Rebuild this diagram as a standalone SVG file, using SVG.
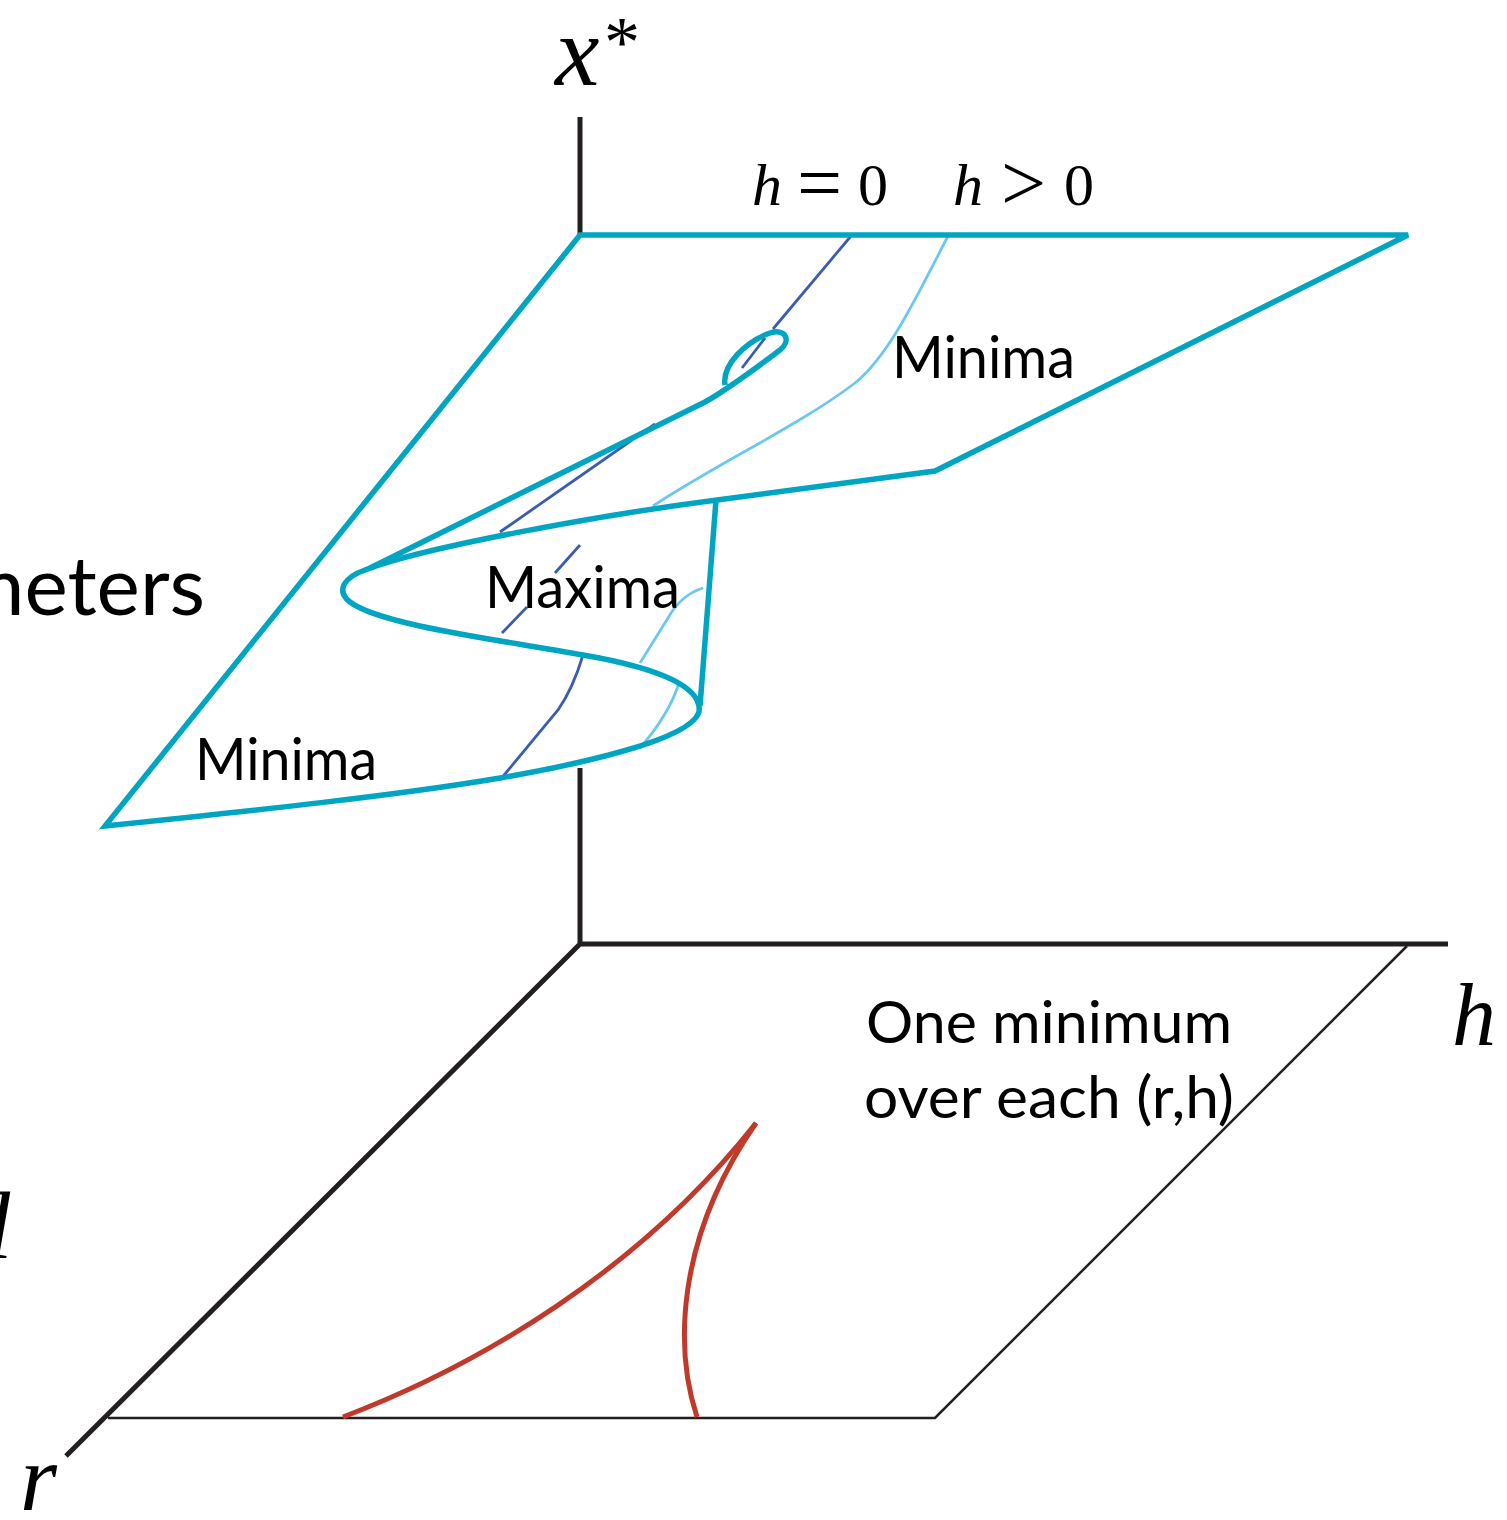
<svg xmlns="http://www.w3.org/2000/svg" width="1507" height="1520" viewBox="0 0 1507 1520">
<style>
.axis{stroke:#231f20;stroke-width:5;fill:none;stroke-linecap:butt}
.thin{stroke:#231f20;stroke-width:2.5;fill:none}
.teal{stroke:#00a5c2;stroke-width:5.5;fill:none;stroke-linejoin:miter;stroke-linecap:butt}
.dark{stroke:#3a5db0;stroke-width:2.8;fill:none}
.light{stroke:#6cc8ee;stroke-width:2.8;fill:none}
.red{stroke:#c0392b;stroke-width:5;fill:none}
.lbl{font-family:Lato,"Open Sans","Liberation Sans",sans-serif;font-size:58px;fill:#000}
.math{font-family:"Liberation Serif","DejaVu Serif",serif;fill:#000}
.it{font-style:italic}
</style>
<rect width="1507" height="1520" fill="#fff"/>
<g id="axes">
<path class="axis" d="M580,117 L580,235 M580,768 L580,944 L1448,944 M580,944 L66,1456"/>
</g>
<g id="base-plane">
<path class="thin" d="M108,1418 L935,1418 L1407,946"/>
</g>
<g id="fold-curve">
<path class="red" d="M343,1417 C480,1365 640,1270 756,1123"/>
<path class="red" d="M697,1417 C675,1350 675,1240 756,1123"/>
</g>
<g id="h-lines">
<path class="dark" d="M851,236 L773,329 M765,338 L742,368 M655,424 L500,532 M580,545 L555,573 M527,607 L502,633 M583,655 C575,682 567,697 558,710 L500,780"/>
<path class="light" d="M948,236 C920,290 890,355 855,383 C800,425 720,462 653,506 M703,588 C690,592 678,600 668,618 L640,663 M679,683 C672,705 660,725 640,748"/>
</g>
<g id="surface">
<path class="teal" d="M1408,235 L580,235 L105,826 C260,810 400,795 500,778 C580,764 690,740 699,712 C702,690 670,670 583,655 C500,640 380,625 350,602 C335,590 345,577 365,570 C420,548 600,515 717,500 L935,471 Z"/>
<path class="teal" d="M716,500 L700,706"/>
<path class="teal" d="M370,568 L705,402 C730,388 760,365 780,350 C792,340 785,328 770,333 C745,342 722,365 725,385"/>
</g>
<g id="labels">
<text class="lbl" x="892" y="378" textLength="183" lengthAdjust="spacingAndGlyphs">Minima</text>
<text class="lbl" x="485" y="608" textLength="195" lengthAdjust="spacingAndGlyphs">Maxima</text>
<text class="lbl" x="195" y="780" textLength="182" lengthAdjust="spacingAndGlyphs">Minima</text>
<text class="lbl" x="866" y="1043" textLength="366" lengthAdjust="spacingAndGlyphs">One minimum</text>
<text class="lbl" x="864" y="1118" textLength="370" lengthAdjust="spacingAndGlyphs">over each (r,h)</text>
<text class="lbl" x="205" y="615" text-anchor="end" style="font-size:82px">Parameters</text>
<text class="math it" x="555" y="85" style="font-size:100px">x</text>
<text class="math" x="604" y="66" style="font-size:72px">*</text>
<text class="math it" x="752" y="205" style="font-size:60px">h</text>
<text class="math" x="797" y="210" style="font-size:80px">=</text>
<text class="math" x="858" y="205" style="font-size:60px">0</text>
<text class="math it" x="953" y="205" style="font-size:60px">h</text>
<text class="math" x="1001" y="210" style="font-size:80px">&gt;</text>
<text class="math" x="1064" y="205" style="font-size:60px">0</text>
<text class="math it" x="1452" y="1045" style="font-size:88px">h</text>
<text class="math it" x="20" y="1510" style="font-size:95px">r</text>
<text class="math it" x="-14" y="1258" style="font-size:95px">l</text>
</g>
</svg>
